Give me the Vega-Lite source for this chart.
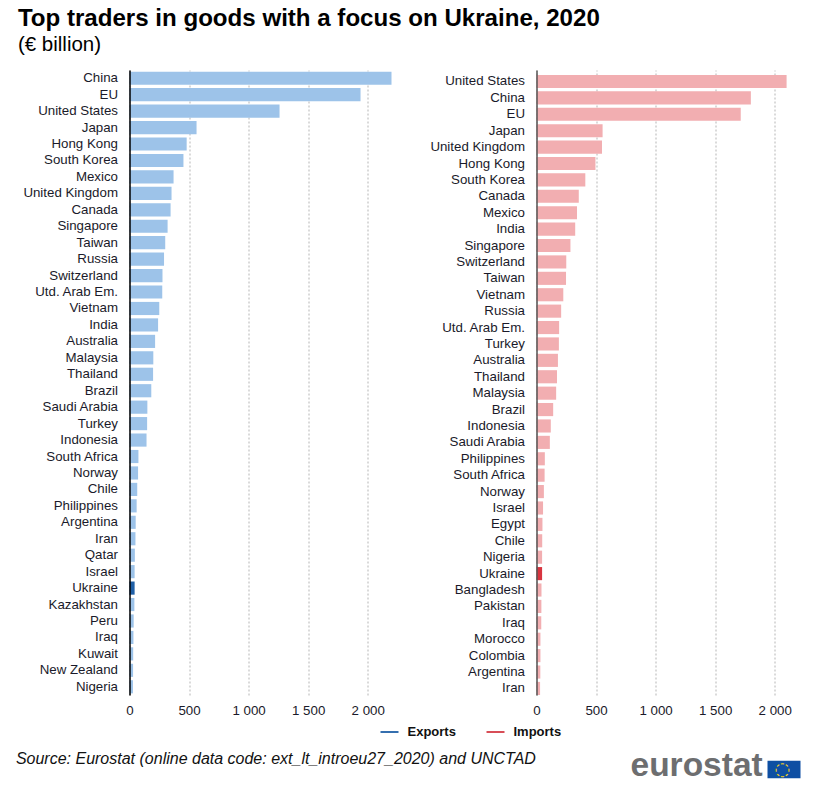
{
"$schema":"https://vega.github.io/schema/vega-lite/v6.json",
"background":"white",
"padding":{"left":15.5,"top":6,"right":0,"bottom":0},
"title":{"text":"Top traders in goods with a focus on Ukraine, 2020","subtitle":"(€ billion)","anchor":"start","frame":"bounds","font":"Liberation Sans","fontSize":24.1,"fontWeight":"bold","color":"#000000","subtitleFont":"Liberation Sans","subtitleFontSize":20.5,"subtitleColor":"#000000","subtitlePadding":4,"offset":14.5,"dx":2},
"config":{"view":{"stroke":null},"font":"Liberation Sans"},
"bounds":"flush",
"spacing":145,
"resolve":{"scale":{"color":"independent"},"legend":{"color":"independent"}},
"hconcat":[
{"width":262,"height":625,
"title":{"text":"Source: Eurostat (online data code: ext_lt_introeu27_2020) and UNCTAD","orient":"bottom","anchor":"start","frame":"bounds","font":"Liberation Sans","fontStyle":"italic","fontWeight":"normal","fontSize":16,"color":"#111111","offset":12,"dx":-7},
"data":{"values":[
{"country":"China","value":2200,"group":"Other exporters"},{"country":"EU","value":1940,"group":"Other exporters"},{"country":"United States","value":1260,"group":"Other exporters"},{"country":"Japan","value":563,"group":"Other exporters"},{"country":"Hong Kong","value":480,"group":"Other exporters"},{"country":"South Korea","value":453,"group":"Other exporters"},{"country":"Mexico","value":370,"group":"Other exporters"},{"country":"United Kingdom","value":353,"group":"Other exporters"},{"country":"Canada","value":345,"group":"Other exporters"},{"country":"Singapore","value":320,"group":"Other exporters"},{"country":"Taiwan","value":300,"group":"Other exporters"},{"country":"Russia","value":290,"group":"Other exporters"},{"country":"Switzerland","value":277,"group":"Other exporters"},{"country":"Utd. Arab Em.","value":275,"group":"Other exporters"},{"country":"Vietnam","value":250,"group":"Other exporters"},{"country":"India","value":240,"group":"Other exporters"},{"country":"Australia","value":215,"group":"Other exporters"},{"country":"Malaysia","value":200,"group":"Other exporters"},{"country":"Thailand","value":198,"group":"Other exporters"},{"country":"Brazil","value":183,"group":"Other exporters"},{"country":"Saudi Arabia","value":150,"group":"Other exporters"},{"country":"Turkey","value":148,"group":"Other exporters"},{"country":"Indonesia","value":143,"group":"Other exporters"},{"country":"South Africa","value":75,"group":"Other exporters"},{"country":"Norway","value":72,"group":"Other exporters"},{"country":"Chile","value":65,"group":"Other exporters"},{"country":"Philippines","value":60,"group":"Other exporters"},{"country":"Argentina","value":52,"group":"Other exporters"},{"country":"Iran","value":50,"group":"Other exporters"},{"country":"Qatar","value":45,"group":"Other exporters"},{"country":"Israel","value":43,"group":"Other exporters"},{"country":"Ukraine","value":43,"group":"Exports"},{"country":"Kazakhstan","value":41,"group":"Other exporters"},{"country":"Peru","value":35,"group":"Other exporters"},{"country":"Iraq","value":33,"group":"Other exporters"},{"country":"Kuwait","value":31,"group":"Other exporters"},{"country":"New Zealand","value":30,"group":"Other exporters"},{"country":"Nigeria","value":29,"group":"Other exporters"}
]},
"mark":{"type":"bar"},
"encoding":{
"y":{"field":"country","type":"nominal","sort":null,"title":null,"scale":{"paddingInner":0.2,"paddingOuter":0.1},
"axis":{"domainColor":"#000000","domainWidth":1.5,"ticks":false,"labelFontSize":13.3,"labelColor":"#1a1a2a","labelPadding":12,"labelFont":"Liberation Sans","zindex":1}},
"x":{"field":"value","type":"quantitative","title":null,"scale":{"domain":[0,2200],"nice":false},
"axis":{"values":[0,500,1000,1500,2000],"labelExpr":"replace(format(datum.value,','),',',' ')","domain":false,"ticks":false,"grid":true,"gridColor":"#b5b5b5","gridDash":[2,2],"labelFontSize":13.3,"labelColor":"#1a1a2a","labelPadding":8,"labelFlush":false}},
"color":{"field":"group","type":"nominal","scale":{"domain":["Exports","Imports","Other exporters"],"range":["#1f5fa6","#d43a45","#9dc3e9"]},
"legend":{"values":["Exports","Imports"],"title":null,"orient":"none","legendX":251,"legendY":653,"direction":"horizontal","columns":2,"columnPadding":30,"symbolType":"M-1,-0.1H1V0.1H-1Z","symbolSize":324,"symbolStrokeWidth":0,"labelFont":"Liberation Sans","labelFontWeight":"bold","labelFontSize":13,"labelColor":"#111111","labelOffset":9}}
}},
{"width":262,"height":625,
"data":{"values":[
{"country":"United States","value":2100,"group":"Other importers"},{"country":"China","value":1800,"group":"Other importers"},{"country":"EU","value":1715,"group":"Other importers"},{"country":"Japan","value":555,"group":"Other importers"},{"country":"United Kingdom","value":550,"group":"Other importers"},{"country":"Hong Kong","value":495,"group":"Other importers"},{"country":"South Korea","value":410,"group":"Other importers"},{"country":"Canada","value":355,"group":"Other importers"},{"country":"Mexico","value":340,"group":"Other importers"},{"country":"India","value":325,"group":"Other importers"},{"country":"Singapore","value":285,"group":"Other importers"},{"country":"Switzerland","value":250,"group":"Other importers"},{"country":"Taiwan","value":248,"group":"Other importers"},{"country":"Vietnam","value":225,"group":"Other importers"},{"country":"Russia","value":207,"group":"Other importers"},{"country":"Utd. Arab Em.","value":190,"group":"Other importers"},{"country":"Turkey","value":188,"group":"Other importers"},{"country":"Australia","value":180,"group":"Other importers"},{"country":"Thailand","value":172,"group":"Other importers"},{"country":"Malaysia","value":165,"group":"Other importers"},{"country":"Brazil","value":140,"group":"Other importers"},{"country":"Indonesia","value":120,"group":"Other importers"},{"country":"Saudi Arabia","value":112,"group":"Other importers"},{"country":"Philippines","value":70,"group":"Other importers"},{"country":"South Africa","value":68,"group":"Other importers"},{"country":"Norway","value":62,"group":"Other importers"},{"country":"Israel","value":55,"group":"Other importers"},{"country":"Egypt","value":50,"group":"Other importers"},{"country":"Chile","value":48,"group":"Other importers"},{"country":"Nigeria","value":47,"group":"Other importers"},{"country":"Ukraine","value":47,"group":"Imports"},{"country":"Bangladesh","value":42,"group":"Other importers"},{"country":"Pakistan","value":41,"group":"Other importers"},{"country":"Iraq","value":40,"group":"Other importers"},{"country":"Morocco","value":33,"group":"Other importers"},{"country":"Colombia","value":33,"group":"Other importers"},{"country":"Argentina","value":32,"group":"Other importers"},{"country":"Iran","value":30,"group":"Other importers"}
]},
"mark":{"type":"bar"},
"encoding":{
"y":{"field":"country","type":"nominal","sort":null,"title":null,"scale":{"paddingInner":0.2,"paddingOuter":0.15,"align":1},
"axis":{"domainColor":"#555555","domainWidth":1.5,"ticks":false,"labelFontSize":13.3,"labelColor":"#1a1a2a","labelPadding":12,"labelFont":"Liberation Sans","zindex":1}},
"x":{"field":"value","type":"quantitative","title":null,"scale":{"domain":[0,2200],"nice":false},
"axis":{"values":[0,500,1000,1500,2000],"labelExpr":"replace(format(datum.value,','),',',' ')","domain":false,"ticks":false,"grid":true,"gridColor":"#b5b5b5","gridDash":[2,2],"labelFontSize":13.3,"labelColor":"#1a1a2a","labelPadding":8,"labelFlush":false}},
"color":{"field":"group","type":"nominal","scale":{"domain":["Imports","Other importers","◌"],"range":["#d8343f","#f2aeb1","#0e4fa3"]},
"legend":{"values":["◌"],"title":"eurostat","titleOrient":"left","titleFont":"Liberation Sans","titleFontSize":33.5,"titleFontWeight":"bold","titleColor":"#6d6e70","titlePadding":4,"orient":"none","legendX":94,"legendY":683,"symbolType":"M-1,-0.53H1V0.53H-1Z","symbolSize":1089,"symbolStrokeWidth":0,"labelFont":"DejaVu Sans","labelFontSize":18,"labelColor":"#f7d117","labelOffset":-26}}
}}
]
}
